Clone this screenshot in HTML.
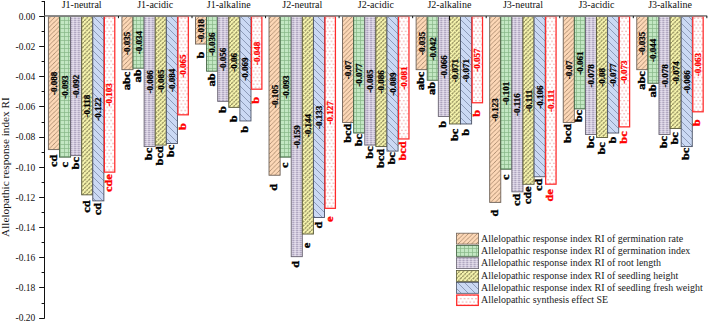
<!DOCTYPE html>
<html><head><meta charset="utf-8"><style>
html,body{margin:0;padding:0;background:#fff;}
svg{display:block;}
text{font-family:"Liberation Serif",serif;}
</style></head><body>
<svg width="708" height="323" viewBox="0 0 708 323">
<defs>
<pattern id="pO" patternUnits="userSpaceOnUse" width="4.5" height="4.5">
<rect width="4.5" height="4.5" fill="#fdd8b7"/>
<path d="M-1,1.1 L1.1,-1 M0,4.5 L4.5,0 M3.4,5.5 L5.5,3.4" stroke="#85654a" stroke-width="0.6"/>
</pattern>
<pattern id="pG" patternUnits="userSpaceOnUse" width="4" height="4">
<rect width="4" height="4" fill="#c3e7c3"/>
<path d="M0,0.4 H4 M0.4,0 V4" stroke="#86b686" stroke-width="0.8"/>
</pattern>
<pattern id="pP" patternUnits="userSpaceOnUse" width="3.7" height="2">
<rect width="3.7" height="2" fill="#d5cde0"/>
<path d="M0.2,0.6 H2.0" stroke="#a59bb6" stroke-width="0.9"/>
<path d="M2.2,1.5 H3.5" stroke="#f0ecf5" stroke-width="0.7"/>
</pattern>
<pattern id="pY" patternUnits="userSpaceOnUse" width="4.2" height="4.2">
<rect width="4.2" height="4.2" fill="#f9f7b0"/>
<path d="M-1,1.05 L1.05,-1 M0,4.2 L4.2,0 M3.15,5.2 L5.2,3.15" stroke="#8e8a5a" stroke-width="1.25"/>
<path d="M0,0 L4.2,4.2" stroke="#f9f7b0" stroke-width="0.8"/>
</pattern>
<pattern id="pB" patternUnits="userSpaceOnUse" width="7" height="7">
<rect width="7" height="7" fill="#cbd9f4"/>
<path d="M-1,6 L1,8 M0,0 L7,7 M6,-1 L8,1" stroke="#63708f" stroke-width="0.6"/>
</pattern>
<pattern id="pR" patternUnits="userSpaceOnUse" width="3.8" height="6.6">
<rect width="3.8" height="6.6" fill="#fff"/>
<circle cx="0.95" cy="1.65" r="0.7" fill="#ee8e8e"/>
<circle cx="2.85" cy="4.95" r="0.7" fill="#ee8e8e"/>
</pattern>
</defs>

<text transform="translate(9.4,236.9) rotate(-90)" font-size="11.25" fill="#111">Allelopathic response index RI</text>
<g stroke="#111" stroke-width="1">
<line x1="44.5" y1="1.0" x2="44.5" y2="318.6"/>
<line x1="41.6" y1="1.50" x2="44.5" y2="1.50"/>
<line x1="39.2" y1="16.50" x2="44.5" y2="16.50"/>
<line x1="41.6" y1="31.50" x2="44.5" y2="31.50"/>
<line x1="39.2" y1="46.50" x2="44.5" y2="46.50"/>
<line x1="41.6" y1="61.50" x2="44.5" y2="61.50"/>
<line x1="39.2" y1="76.50" x2="44.5" y2="76.50"/>
<line x1="41.6" y1="91.50" x2="44.5" y2="91.50"/>
<line x1="39.2" y1="106.50" x2="44.5" y2="106.50"/>
<line x1="41.6" y1="122.50" x2="44.5" y2="122.50"/>
<line x1="39.2" y1="137.50" x2="44.5" y2="137.50"/>
<line x1="41.6" y1="152.50" x2="44.5" y2="152.50"/>
<line x1="39.2" y1="167.50" x2="44.5" y2="167.50"/>
<line x1="41.6" y1="182.50" x2="44.5" y2="182.50"/>
<line x1="39.2" y1="197.50" x2="44.5" y2="197.50"/>
<line x1="41.6" y1="212.50" x2="44.5" y2="212.50"/>
<line x1="39.2" y1="227.50" x2="44.5" y2="227.50"/>
<line x1="41.6" y1="242.50" x2="44.5" y2="242.50"/>
<line x1="39.2" y1="257.50" x2="44.5" y2="257.50"/>
<line x1="41.6" y1="272.50" x2="44.5" y2="272.50"/>
<line x1="39.2" y1="287.50" x2="44.5" y2="287.50"/>
<line x1="41.6" y1="303.50" x2="44.5" y2="303.50"/>
<line x1="39.2" y1="318.50" x2="44.5" y2="318.50"/>
</g>
<g font-size="9.5" fill="#111" text-anchor="end">
<text x="35.3" y="19.80">0.00</text>
<text x="35.3" y="49.96">-0.02</text>
<text x="35.3" y="80.12">-0.04</text>
<text x="35.3" y="110.28">-0.06</text>
<text x="35.3" y="140.44">-0.08</text>
<text x="35.3" y="170.60">-0.10</text>
<text x="35.3" y="200.76">-0.12</text>
<text x="35.3" y="230.92">-0.14</text>
<text x="35.3" y="261.08">-0.16</text>
<text x="35.3" y="291.24">-0.18</text>
<text x="35.3" y="321.40">-0.20</text>
</g>
<rect x="48.38" y="16.50" width="11.10" height="133.10" fill="url(#pO)" stroke="#6e6258" stroke-width="0.9"/>
<rect x="59.48" y="16.50" width="11.10" height="140.64" fill="url(#pG)" stroke="#3f5f3f" stroke-width="0.9"/>
<rect x="70.58" y="16.50" width="11.10" height="139.14" fill="url(#pP)" stroke="#6a6472" stroke-width="0.9"/>
<rect x="81.67" y="16.50" width="11.10" height="178.34" fill="url(#pY)" stroke="#5a5a3a" stroke-width="0.9"/>
<rect x="92.78" y="16.50" width="11.10" height="184.38" fill="url(#pB)" stroke="#4a5266" stroke-width="0.9"/>
<rect x="104.38" y="16.50" width="10.40" height="155.62" fill="url(#pR)" stroke="#ff2a2a" stroke-width="1.25"/>
<rect x="121.92" y="16.50" width="11.10" height="53.18" fill="url(#pO)" stroke="#6e6258" stroke-width="0.9"/>
<rect x="133.03" y="16.50" width="11.10" height="51.67" fill="url(#pG)" stroke="#3f5f3f" stroke-width="0.9"/>
<rect x="144.12" y="16.50" width="11.10" height="130.09" fill="url(#pP)" stroke="#6a6472" stroke-width="0.9"/>
<rect x="155.22" y="16.50" width="11.10" height="128.58" fill="url(#pY)" stroke="#5a5a3a" stroke-width="0.9"/>
<rect x="166.32" y="16.50" width="11.10" height="127.07" fill="url(#pB)" stroke="#4a5266" stroke-width="0.9"/>
<rect x="177.93" y="16.50" width="10.40" height="98.32" fill="url(#pR)" stroke="#ff2a2a" stroke-width="1.25"/>
<rect x="195.48" y="16.50" width="11.10" height="27.54" fill="url(#pO)" stroke="#6e6258" stroke-width="0.9"/>
<rect x="206.58" y="16.50" width="11.10" height="54.69" fill="url(#pG)" stroke="#3f5f3f" stroke-width="0.9"/>
<rect x="217.68" y="16.50" width="11.10" height="84.85" fill="url(#pP)" stroke="#6a6472" stroke-width="0.9"/>
<rect x="228.78" y="16.50" width="11.10" height="90.88" fill="url(#pY)" stroke="#5a5a3a" stroke-width="0.9"/>
<rect x="239.88" y="16.50" width="11.10" height="104.45" fill="url(#pB)" stroke="#4a5266" stroke-width="0.9"/>
<rect x="251.48" y="16.50" width="10.40" height="72.68" fill="url(#pR)" stroke="#ff2a2a" stroke-width="1.25"/>
<rect x="269.02" y="16.50" width="11.10" height="158.74" fill="url(#pO)" stroke="#6e6258" stroke-width="0.9"/>
<rect x="280.12" y="16.50" width="11.10" height="140.64" fill="url(#pG)" stroke="#3f5f3f" stroke-width="0.9"/>
<rect x="291.22" y="16.50" width="11.10" height="240.17" fill="url(#pP)" stroke="#6a6472" stroke-width="0.9"/>
<rect x="302.32" y="16.50" width="11.10" height="217.55" fill="url(#pY)" stroke="#5a5a3a" stroke-width="0.9"/>
<rect x="313.42" y="16.50" width="11.10" height="200.96" fill="url(#pB)" stroke="#4a5266" stroke-width="0.9"/>
<rect x="325.02" y="16.50" width="10.40" height="191.82" fill="url(#pR)" stroke="#ff2a2a" stroke-width="1.25"/>
<rect x="342.57" y="16.50" width="11.10" height="105.96" fill="url(#pO)" stroke="#6e6258" stroke-width="0.9"/>
<rect x="353.67" y="16.50" width="11.10" height="116.52" fill="url(#pG)" stroke="#3f5f3f" stroke-width="0.9"/>
<rect x="364.77" y="16.50" width="11.10" height="128.58" fill="url(#pP)" stroke="#6a6472" stroke-width="0.9"/>
<rect x="375.87" y="16.50" width="11.10" height="130.09" fill="url(#pY)" stroke="#5a5a3a" stroke-width="0.9"/>
<rect x="386.97" y="16.50" width="11.10" height="134.61" fill="url(#pB)" stroke="#4a5266" stroke-width="0.9"/>
<rect x="398.57" y="16.50" width="10.40" height="122.45" fill="url(#pR)" stroke="#ff2a2a" stroke-width="1.25"/>
<rect x="416.12" y="16.50" width="11.10" height="53.18" fill="url(#pO)" stroke="#6e6258" stroke-width="0.9"/>
<rect x="427.22" y="16.50" width="11.10" height="63.74" fill="url(#pG)" stroke="#3f5f3f" stroke-width="0.9"/>
<rect x="438.32" y="16.50" width="11.10" height="99.93" fill="url(#pP)" stroke="#6a6472" stroke-width="0.9"/>
<rect x="449.42" y="16.50" width="11.10" height="107.47" fill="url(#pY)" stroke="#5a5a3a" stroke-width="0.9"/>
<rect x="460.52" y="16.50" width="11.10" height="107.47" fill="url(#pB)" stroke="#4a5266" stroke-width="0.9"/>
<rect x="472.12" y="16.50" width="10.40" height="86.26" fill="url(#pR)" stroke="#ff2a2a" stroke-width="1.25"/>
<rect x="489.68" y="16.50" width="11.10" height="185.88" fill="url(#pO)" stroke="#6e6258" stroke-width="0.9"/>
<rect x="500.78" y="16.50" width="11.10" height="152.71" fill="url(#pG)" stroke="#3f5f3f" stroke-width="0.9"/>
<rect x="511.88" y="16.50" width="11.10" height="175.33" fill="url(#pP)" stroke="#6a6472" stroke-width="0.9"/>
<rect x="522.98" y="16.50" width="11.10" height="167.79" fill="url(#pY)" stroke="#5a5a3a" stroke-width="0.9"/>
<rect x="534.08" y="16.50" width="11.10" height="160.25" fill="url(#pB)" stroke="#4a5266" stroke-width="0.9"/>
<rect x="545.67" y="16.50" width="10.40" height="167.69" fill="url(#pR)" stroke="#ff2a2a" stroke-width="1.25"/>
<rect x="563.23" y="16.50" width="11.10" height="105.96" fill="url(#pO)" stroke="#6e6258" stroke-width="0.9"/>
<rect x="574.33" y="16.50" width="11.10" height="92.39" fill="url(#pG)" stroke="#3f5f3f" stroke-width="0.9"/>
<rect x="585.43" y="16.50" width="11.10" height="118.02" fill="url(#pP)" stroke="#6a6472" stroke-width="0.9"/>
<rect x="596.52" y="16.50" width="11.10" height="121.04" fill="url(#pY)" stroke="#5a5a3a" stroke-width="0.9"/>
<rect x="607.62" y="16.50" width="11.10" height="116.52" fill="url(#pB)" stroke="#4a5266" stroke-width="0.9"/>
<rect x="619.23" y="16.50" width="10.40" height="110.38" fill="url(#pR)" stroke="#ff2a2a" stroke-width="1.25"/>
<rect x="636.77" y="16.50" width="11.10" height="53.18" fill="url(#pO)" stroke="#6e6258" stroke-width="0.9"/>
<rect x="647.88" y="16.50" width="11.10" height="66.75" fill="url(#pG)" stroke="#3f5f3f" stroke-width="0.9"/>
<rect x="658.98" y="16.50" width="11.10" height="118.02" fill="url(#pP)" stroke="#6a6472" stroke-width="0.9"/>
<rect x="670.07" y="16.50" width="11.10" height="111.99" fill="url(#pY)" stroke="#5a5a3a" stroke-width="0.9"/>
<rect x="681.17" y="16.50" width="11.10" height="130.09" fill="url(#pB)" stroke="#4a5266" stroke-width="0.9"/>
<rect x="692.77" y="16.50" width="10.40" height="95.30" fill="url(#pR)" stroke="#ff2a2a" stroke-width="1.25"/>
<line x1="44.6" y1="15.9" x2="707.2" y2="15.9" stroke="#8a8a8a" stroke-width="1.6"/>
<g stroke="#111" stroke-width="1">
<line x1="118.45" y1="16" x2="118.45" y2="18.2"/>
<line x1="192.00" y1="16" x2="192.00" y2="18.2"/>
<line x1="265.55" y1="16" x2="265.55" y2="18.2"/>
<line x1="339.10" y1="16" x2="339.10" y2="18.2"/>
<line x1="412.65" y1="16" x2="412.65" y2="18.2"/>
<line x1="486.20" y1="16" x2="486.20" y2="18.2"/>
<line x1="559.75" y1="16" x2="559.75" y2="18.2"/>
<line x1="633.30" y1="16" x2="633.30" y2="18.2"/>
<line x1="706.85" y1="16" x2="706.85" y2="18.2"/>
</g>
<line x1="449.6" y1="16" x2="449.6" y2="20.2" stroke="#000" stroke-width="1"/>
<g font-size="10" fill="#111" text-anchor="middle">
<text x="81.67" y="8.2">J1-neutral</text>
<text x="155.22" y="8.2">J1-acidic</text>
<text x="228.78" y="8.2">J1-alkaline</text>
<text x="302.32" y="8.2">J2-neutral</text>
<text x="375.87" y="8.2">J2-acidic</text>
<text x="449.42" y="8.2">J2-alkaline</text>
<text x="522.98" y="8.2">J3-neutral</text>
<text x="596.52" y="8.2">J3-acidic</text>
<text x="670.07" y="8.2">J3-alkaline</text>
</g>
<g font-size="9" font-weight="bold" text-anchor="middle" stroke-width="0.25">
<text transform="translate(56.92,83.45) rotate(-90)" fill="#000" stroke="#000">-0.088</text>
<text transform="translate(68.03,87.22) rotate(-90)" fill="#000" stroke="#000">-0.093</text>
<text transform="translate(79.12,86.47) rotate(-90)" fill="#000" stroke="#000">-0.092</text>
<text transform="translate(90.22,106.07) rotate(-90)" fill="#000" stroke="#000">-0.118</text>
<text transform="translate(101.33,109.09) rotate(-90)" fill="#000" stroke="#000">-0.122</text>
<text transform="translate(112.42,94.76) rotate(-90)" fill="#ff0000" stroke="#ff0000">-0.103</text>
<text transform="translate(130.47,43.49) rotate(-90)" fill="#000" stroke="#000">-0.035</text>
<text transform="translate(141.58,42.74) rotate(-90)" fill="#000" stroke="#000">-0.034</text>
<text transform="translate(152.68,81.94) rotate(-90)" fill="#000" stroke="#000">-0.086</text>
<text transform="translate(163.78,81.19) rotate(-90)" fill="#000" stroke="#000">-0.085</text>
<text transform="translate(174.88,80.44) rotate(-90)" fill="#000" stroke="#000">-0.084</text>
<text transform="translate(185.98,66.11) rotate(-90)" fill="#ff0000" stroke="#ff0000">-0.065</text>
<text transform="translate(204.03,30.67) rotate(-90)" fill="#000" stroke="#000">-0.018</text>
<text transform="translate(215.13,44.24) rotate(-90)" fill="#000" stroke="#000">-0.036</text>
<text transform="translate(226.23,59.32) rotate(-90)" fill="#000" stroke="#000">-0.056</text>
<text transform="translate(237.33,62.34) rotate(-90)" fill="#000" stroke="#000">-0.06</text>
<text transform="translate(248.43,69.13) rotate(-90)" fill="#000" stroke="#000">-0.069</text>
<text transform="translate(259.53,53.29) rotate(-90)" fill="#ff0000" stroke="#ff0000">-0.048</text>
<text transform="translate(277.57,96.27) rotate(-90)" fill="#000" stroke="#000">-0.105</text>
<text transform="translate(288.68,87.22) rotate(-90)" fill="#000" stroke="#000">-0.093</text>
<text transform="translate(299.77,136.99) rotate(-90)" fill="#000" stroke="#000">-0.159</text>
<text transform="translate(310.88,125.68) rotate(-90)" fill="#000" stroke="#000">-0.144</text>
<text transform="translate(321.97,117.38) rotate(-90)" fill="#000" stroke="#000">-0.133</text>
<text transform="translate(333.07,112.86) rotate(-90)" fill="#ff0000" stroke="#ff0000">-0.127</text>
<text transform="translate(351.12,69.88) rotate(-90)" fill="#000" stroke="#000">-0.07</text>
<text transform="translate(362.22,75.16) rotate(-90)" fill="#000" stroke="#000">-0.077</text>
<text transform="translate(373.32,81.19) rotate(-90)" fill="#000" stroke="#000">-0.085</text>
<text transform="translate(384.42,81.94) rotate(-90)" fill="#000" stroke="#000">-0.086</text>
<text transform="translate(395.52,84.21) rotate(-90)" fill="#000" stroke="#000">-0.089</text>
<text transform="translate(406.62,78.17) rotate(-90)" fill="#ff0000" stroke="#ff0000">-0.081</text>
<text transform="translate(424.67,43.49) rotate(-90)" fill="#000" stroke="#000">-0.035</text>
<text transform="translate(435.77,48.77) rotate(-90)" fill="#000" stroke="#000">-0.042</text>
<text transform="translate(446.87,66.86) rotate(-90)" fill="#000" stroke="#000">-0.066</text>
<text transform="translate(457.97,70.63) rotate(-90)" fill="#000" stroke="#000">-0.071</text>
<text transform="translate(469.07,70.63) rotate(-90)" fill="#000" stroke="#000">-0.071</text>
<text transform="translate(480.17,60.08) rotate(-90)" fill="#ff0000" stroke="#ff0000">-0.057</text>
<text transform="translate(498.23,109.84) rotate(-90)" fill="#000" stroke="#000">-0.123</text>
<text transform="translate(509.33,93.25) rotate(-90)" fill="#000" stroke="#000">-0.101</text>
<text transform="translate(520.42,104.56) rotate(-90)" fill="#000" stroke="#000">-0.116</text>
<text transform="translate(531.52,100.79) rotate(-90)" fill="#000" stroke="#000">-0.111</text>
<text transform="translate(542.62,97.02) rotate(-90)" fill="#000" stroke="#000">-0.106</text>
<text transform="translate(553.72,100.79) rotate(-90)" fill="#ff0000" stroke="#ff0000">-0.111</text>
<text transform="translate(571.77,69.88) rotate(-90)" fill="#000" stroke="#000">-0.07</text>
<text transform="translate(582.88,63.09) rotate(-90)" fill="#000" stroke="#000">-0.061</text>
<text transform="translate(593.98,75.91) rotate(-90)" fill="#000" stroke="#000">-0.078</text>
<text transform="translate(605.07,77.42) rotate(-90)" fill="#000" stroke="#000">-0.08</text>
<text transform="translate(616.17,75.16) rotate(-90)" fill="#000" stroke="#000">-0.077</text>
<text transform="translate(627.27,72.14) rotate(-90)" fill="#ff0000" stroke="#ff0000">-0.073</text>
<text transform="translate(645.32,43.49) rotate(-90)" fill="#000" stroke="#000">-0.035</text>
<text transform="translate(656.42,50.28) rotate(-90)" fill="#000" stroke="#000">-0.044</text>
<text transform="translate(667.52,75.91) rotate(-90)" fill="#000" stroke="#000">-0.078</text>
<text transform="translate(678.62,72.90) rotate(-90)" fill="#000" stroke="#000">-0.074</text>
<text transform="translate(689.72,81.94) rotate(-90)" fill="#000" stroke="#000">-0.086</text>
<text transform="translate(700.82,64.60) rotate(-90)" fill="#ff0000" stroke="#ff0000">-0.063</text>
</g>
<g font-size="12.4" font-weight="bold" text-anchor="end" stroke-width="0.45" stroke-linejoin="round">
<text transform="translate(56.52,154.71) rotate(-90) scale(1,0.85)" fill="#000" stroke="#000">cd</text>
<text transform="translate(67.62,162.07) rotate(-90) scale(1,0.85)" fill="#000" stroke="#000">c</text>
<text transform="translate(78.72,157.06) rotate(-90) scale(1,0.85)" fill="#000" stroke="#000">bc</text>
<text transform="translate(89.82,200.46) rotate(-90) scale(1,0.85)" fill="#000" stroke="#000">cd</text>
<text transform="translate(100.92,202.96) rotate(-90) scale(1,0.85)" fill="#000" stroke="#000">cd</text>
<text transform="translate(112.02,174.17) rotate(-90) scale(1,0.85)" fill="#ff0000" stroke="#ff0000">cde</text>
<text transform="translate(130.07,71.63) rotate(-90) scale(1,0.85)" fill="#000" stroke="#000">abc</text>
<text transform="translate(141.18,69.28) rotate(-90) scale(1,0.85)" fill="#000" stroke="#000">ab</text>
<text transform="translate(152.28,147.76) rotate(-90) scale(1,0.85)" fill="#000" stroke="#000">bc</text>
<text transform="translate(163.38,146.09) rotate(-90) scale(1,0.85)" fill="#000" stroke="#000">bcd</text>
<text transform="translate(174.47,144.76) rotate(-90) scale(1,0.85)" fill="#000" stroke="#000">bc</text>
<text transform="translate(185.58,123.06) rotate(-90) scale(1,0.85)" fill="#ff0000" stroke="#ff0000">b</text>
<text transform="translate(203.63,51.71) rotate(-90) scale(1,0.85)" fill="#000" stroke="#000">b</text>
<text transform="translate(214.73,73.28) rotate(-90) scale(1,0.85)" fill="#000" stroke="#000">ab</text>
<text transform="translate(225.83,106.06) rotate(-90) scale(1,0.85)" fill="#000" stroke="#000">b</text>
<text transform="translate(236.93,115.26) rotate(-90) scale(1,0.85)" fill="#000" stroke="#000">b</text>
<text transform="translate(248.03,125.86) rotate(-90) scale(1,0.85)" fill="#000" stroke="#000">b</text>
<text transform="translate(259.13,96.76) rotate(-90) scale(1,0.85)" fill="#ff0000" stroke="#ff0000">b</text>
<text transform="translate(277.18,183.78) rotate(-90) scale(1,0.85)" fill="#000" stroke="#000">d</text>
<text transform="translate(288.28,162.42) rotate(-90) scale(1,0.85)" fill="#000" stroke="#000">c</text>
<text transform="translate(299.38,260.73) rotate(-90) scale(1,0.85)" fill="#000" stroke="#000">d</text>
<text transform="translate(310.48,242.67) rotate(-90) scale(1,0.85)" fill="#000" stroke="#000">e</text>
<text transform="translate(321.57,221.68) rotate(-90) scale(1,0.85)" fill="#000" stroke="#000">d</text>
<text transform="translate(332.68,216.47) rotate(-90) scale(1,0.85)" fill="#ff0000" stroke="#ff0000">e</text>
<text transform="translate(350.72,123.54) rotate(-90) scale(1,0.85)" fill="#000" stroke="#000">bcd</text>
<text transform="translate(361.82,133.96) rotate(-90) scale(1,0.85)" fill="#000" stroke="#000">bc</text>
<text transform="translate(372.92,146.31) rotate(-90) scale(1,0.85)" fill="#000" stroke="#000">bc</text>
<text transform="translate(384.02,148.74) rotate(-90) scale(1,0.85)" fill="#000" stroke="#000">bcd</text>
<text transform="translate(395.12,152.16) rotate(-90) scale(1,0.85)" fill="#000" stroke="#000">bc</text>
<text transform="translate(406.22,141.29) rotate(-90) scale(1,0.85)" fill="#ff0000" stroke="#ff0000">bcd</text>
<text transform="translate(424.27,71.68) rotate(-90) scale(1,0.85)" fill="#000" stroke="#000">abc</text>
<text transform="translate(435.38,81.78) rotate(-90) scale(1,0.85)" fill="#000" stroke="#000">ab</text>
<text transform="translate(446.47,120.76) rotate(-90) scale(1,0.85)" fill="#000" stroke="#000">b</text>
<text transform="translate(457.57,128.71) rotate(-90) scale(1,0.85)" fill="#000" stroke="#000">bc</text>
<text transform="translate(468.67,128.86) rotate(-90) scale(1,0.85)" fill="#000" stroke="#000">b</text>
<text transform="translate(479.77,109.91) rotate(-90) scale(1,0.85)" fill="#ff0000" stroke="#ff0000">b</text>
<text transform="translate(497.83,209.63) rotate(-90) scale(1,0.85)" fill="#000" stroke="#000">d</text>
<text transform="translate(508.93,174.47) rotate(-90) scale(1,0.85)" fill="#000" stroke="#000">c</text>
<text transform="translate(520.02,193.61) rotate(-90) scale(1,0.85)" fill="#000" stroke="#000">cd</text>
<text transform="translate(531.12,186.37) rotate(-90) scale(1,0.85)" fill="#000" stroke="#000">cde</text>
<text transform="translate(542.23,178.56) rotate(-90) scale(1,0.85)" fill="#000" stroke="#000">cd</text>
<text transform="translate(553.32,189.14) rotate(-90) scale(1,0.85)" fill="#ff0000" stroke="#ff0000">de</text>
<text transform="translate(571.38,123.74) rotate(-90) scale(1,0.85)" fill="#000" stroke="#000">bcd</text>
<text transform="translate(582.48,109.96) rotate(-90) scale(1,0.85)" fill="#000" stroke="#000">bc</text>
<text transform="translate(593.58,135.91) rotate(-90) scale(1,0.85)" fill="#000" stroke="#000">bc</text>
<text transform="translate(604.67,142.21) rotate(-90) scale(1,0.85)" fill="#000" stroke="#000">bc</text>
<text transform="translate(615.77,136.71) rotate(-90) scale(1,0.85)" fill="#000" stroke="#000">b</text>
<text transform="translate(626.88,131.26) rotate(-90) scale(1,0.85)" fill="#ff0000" stroke="#ff0000">bc</text>
<text transform="translate(644.92,71.13) rotate(-90) scale(1,0.85)" fill="#000" stroke="#000">abc</text>
<text transform="translate(656.02,84.33) rotate(-90) scale(1,0.85)" fill="#000" stroke="#000">ab</text>
<text transform="translate(667.12,135.91) rotate(-90) scale(1,0.85)" fill="#000" stroke="#000">bc</text>
<text transform="translate(678.22,132.21) rotate(-90) scale(1,0.85)" fill="#000" stroke="#000">bc</text>
<text transform="translate(689.32,147.66) rotate(-90) scale(1,0.85)" fill="#000" stroke="#000">bc</text>
<text transform="translate(700.42,119.36) rotate(-90) scale(1,0.85)" fill="#ff0000" stroke="#ff0000">b</text>
</g>
<rect x="456.4" y="233.20" width="22.2" height="10.9" fill="url(#pO)" stroke="#6e6258" stroke-width="0.8"/>
<text x="481.1" y="241.60" font-size="9.95" fill="#1a1a1a">Allelopathic response index RI of germination rate</text>
<rect x="456.4" y="245.40" width="22.2" height="10.9" fill="url(#pG)" stroke="#3f5f3f" stroke-width="0.8"/>
<text x="481.1" y="253.80" font-size="9.95" fill="#1a1a1a">Allelopathic response index RI of germination index</text>
<rect x="456.4" y="257.70" width="22.2" height="10.9" fill="url(#pP)" stroke="#6a6472" stroke-width="0.8"/>
<text x="481.1" y="266.10" font-size="9.95" fill="#1a1a1a">Allelopathic response index RI of root length</text>
<rect x="456.4" y="270.50" width="22.2" height="10.9" fill="url(#pY)" stroke="#5a5a3a" stroke-width="0.8"/>
<text x="481.1" y="278.90" font-size="9.95" fill="#1a1a1a">Allelopathic response index RI of seedling height</text>
<rect x="456.4" y="282.40" width="22.2" height="10.9" fill="url(#pB)" stroke="#4a5266" stroke-width="0.8"/>
<text x="481.1" y="290.80" font-size="9.95" fill="#1a1a1a">Allelopathic response index RI of seedling fresh weight</text>
<rect x="456.7" y="295.00" width="21.6" height="10.4" fill="url(#pR)" stroke="#ff2a2a" stroke-width="1.3"/>
<text x="481.1" y="303.10" font-size="9.95" fill="#1a1a1a">Allelopathic synthesis effect SE</text>
</svg>
</body></html>
